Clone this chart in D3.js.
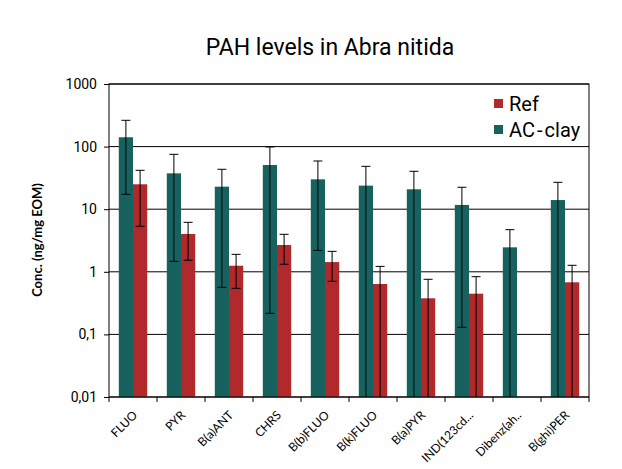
<!DOCTYPE html>
<html>
<head>
<meta charset="utf-8">
<script src="https://cdn.jsdelivr.net/npm/d3@7"></script>
<style>
  body { margin: 0; background: #fff; }
  svg { display: block; }
</style>
</head>
<body>
<div id="vis"></div>
<script>
// chart data
var categories = ['FLUO', 'PYR', 'B(a)ANT', 'CHRS', 'B(b)FLUO', 'B(k)FLUO', 'B(a)PYR', 'IND(123cd...', 'Dibenz(ah..', 'B(ghi)PER'];
var seriesNames = ['AC-clay', 'Ref'];

var acClay   = [141, 37.4, 22.9, 50.8, 30.0, 23.8, 20.8, 11.7, 2.46, 14.0];
var acClayHi = [263, 75.3, 43.4, 98.6, 58.9, 48.4, 40.3, 22.4, 4.71, 26.9];
var acClayLo = [17.3, 1.47, 0.565, 0.217, 2.2, 0, 0, 0.13, 0, 0];

var ref   = [25, 4.02, 1.25, 2.68, 1.43, 0.638, 0.377, 0.447, null, 0.679];
var refHi = [41.8, 6.17, 1.90, 3.97, 2.12, 1.22, 0.759, 0.836, null, 1.27];
var refLo = [5.33, 1.53, 0.544, 1.32, 0.705, 0, 0, 0, null, 0];

var yTicks = [0.01, 0.1, 1, 10, 100, 1000];
var yTickLabels = ['0,01', '0,1', '1', '10', '100', '1000'];

var colors = { 'AC-clay': '#17625f', 'Ref': '#b0292c' };

var width = 622, height = 469;
var margin = { left: 109, right: 33, top: 84, bottom: 72 };
var innerW = width - margin.left - margin.right;
var innerH = height - margin.top - margin.bottom;

var svg = d3.select('#vis')
    .append('svg')
    .attr('width', width)
    .attr('height', height);

var g = svg.append('g')
    .attr('transform', 'translate(' + margin.left + ',' + margin.top + ')');

var xScale = d3.scaleBand().domain(categories).range([0, innerW]).padding(0);
var xInner = d3.scaleBand().domain(seriesNames).range([0, xScale.bandwidth()])
    .paddingInner(0).paddingOuter(0.69);
var yScale = d3.scaleLog().domain([0.01, 1000]).range([innerH, 0]);

// gridlines
g.selectAll('.grid')
    .data(yTicks)
    .enter().append('line')
    .attr('class', 'grid')
    .attr('x1', 0)
    .attr('x2', innerW)
    .attr('y1', function(d) { return yScale(d); })
    .attr('y2', function(d) { return yScale(d); })
    .attr('stroke', '#000')
    .attr('stroke-width', 1);

// build rows
var rows = categories.map(function(c, i) {
    return [
        { cat: c, s: 'AC-clay', v: acClay[i], hi: acClayHi[i], lo: acClayLo[i] },
        { cat: c, s: 'Ref', v: ref[i], hi: refHi[i], lo: refLo[i] }
    ];
});
var bars = [].concat.apply([], rows).filter(function(d) { return d.v != null; });

var minY = yScale.domain()[0];

g.selectAll('.bar')
    .data(bars)
    .enter().append('rect')
    .attr('class', 'bar')
    .attr('x', function(d) { return xScale(d.cat) + xInner(d.s); })
    .attr('width', xInner.bandwidth())
    .attr('y', function(d) { return yScale(d.v); })
    .attr('height', function(d) { return innerH - yScale(d.v); })
    .attr('fill', function(d) { return colors[d.s]; });

// error bars
var cx = function(d) { return xScale(d.cat) + xInner(d.s) + xInner.bandwidth() / 2; };
var eg = g.selectAll('.err')
    .data(bars)
    .enter().append('g')
    .attr('class', 'err')
    .attr('stroke', '#000')
    .attr('stroke-width', 1);

eg.append('line')
    .attr('x1', cx).attr('x2', cx)
    .attr('y1', function(d) { return yScale(d.hi); })
    .attr('y2', function(d) { return yScale(Math.max(d.lo, minY)); });
eg.append('line')
    .attr('x1', function(d) { return cx(d) - 4.5; })
    .attr('x2', function(d) { return cx(d) + 4.5; })
    .attr('y1', function(d) { return yScale(d.hi); })
    .attr('y2', function(d) { return yScale(d.hi); });
eg.filter(function(d) { return d.lo >= minY; })
    .append('line')
    .attr('x1', function(d) { return cx(d) - 4.5; })
    .attr('x2', function(d) { return cx(d) + 4.5; })
    .attr('y1', function(d) { return yScale(d.lo); })
    .attr('y2', function(d) { return yScale(d.lo); });

// plot frame
g.append('rect')
    .attr('x', 0).attr('y', 0)
    .attr('width', innerW).attr('height', innerH)
    .attr('fill', 'none')
    .attr('stroke', '#000')
    .attr('stroke-width', 1);

// y axis
var yAxis = d3.axisLeft(yScale)
    .tickValues(yTicks)
    .tickSize(5)
    .tickPadding(7)
    .tickFormat(function(d, i) { return yTickLabels[i]; });

var ya = g.append('g').call(yAxis);
ya.select('.domain').remove();
ya.selectAll('text')
    .style('font-family', 'Roboto, sans-serif')
    .style('font-size', '14px')
    .attr('fill', '#000');

// x axis: ticks at band boundaries
var boundaries = categories.map(function(c) { return xScale(c); }).concat([innerW]);
var xa = g.append('g')
    .attr('transform', 'translate(0,' + innerH + ')');
xa.selectAll('.bticks')
    .data(boundaries)
    .enter().append('line')
    .attr('x1', function(d) { return d; })
    .attr('x2', function(d) { return d; })
    .attr('y1', 0)
    .attr('y2', 5)
    .attr('stroke', '#000');

var labs = xa.selectAll('.xlab')
    .data(categories)
    .enter().append('g')
    .attr('class', 'xlab')
    .attr('transform', function(d) {
        return 'translate(' + (xScale(d) + xScale.bandwidth() / 2 + 2) + ',16)';
    });
labs.append('text')
    .attr('transform', 'rotate(-45)')
    .attr('text-anchor', 'end')
    .attr('dy', '0.35em')
    .attr('fill', '#000')
    .style('font-family', 'Lato, sans-serif')
    .style('font-size', '12px')
    .text(function(d) { return d; });

// y axis title
svg.append('text')
    .attr('transform', 'translate(' + 42 + ',' + 240 + ')rotate(-90)')
    .style('text-anchor', 'middle')
    .style('font-family', 'Lato, sans-serif')
    .style('font-weight', 'bold')
    .style('font-size', '13px')
    .text('Conc. (ng/mg EOM)');

// title
svg.append('text')
    .attr('x', 330)
    .attr('y', 55)
    .style('text-anchor', 'middle')
    .style('font-family', 'Roboto, sans-serif')
    .style('font-size', '23px')
    .text('PAH levels in Abra nitida');

// legend
var legendItems = ['Ref', 'AC-clay'];
var lg = svg.append('g').attr('transform', 'translate(494,99)');
var li = lg.selectAll('.leg')
    .data(legendItems)
    .enter().append('g')
    .attr('transform', function(d, i) { return 'translate(0,' + (i * 26) + ')'; });
li.append('rect')
    .attr('width', 9).attr('height', 9)
    .attr('fill', function(d) { return colors[d]; });
li.append('text')
    .attr('x', 15)
    .attr('y', 11.5)
    .style('font-family', 'Roboto, sans-serif')
    .style('font-size', '20px')
    .text(function(d) { return d === 'AC-clay' ? 'AC\u200A-\u200Aclay' : d; });
</script>
</body>
</html>
